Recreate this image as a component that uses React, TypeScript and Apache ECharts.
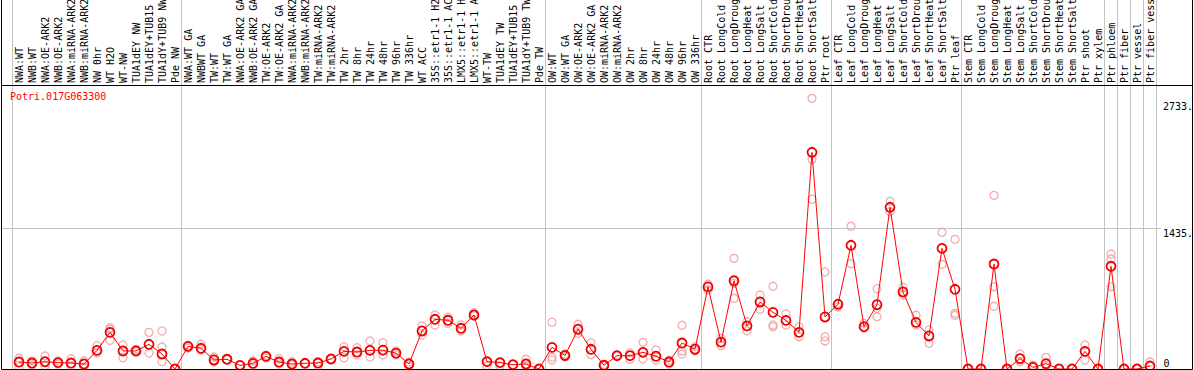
import { useEffect, useRef } from 'react';
import * as echarts from 'echarts';

const geneName = 'Potri.017G063300';

const categories = [
  'NWA:WT', 'NWB:WT', 'NWA:OE-ARK2', 'NWB:OE-ARK2', 'NWA:miRNA-ARK2', 'NWB:miRNA-ARK2',
  'NW 0hr', 'WT H2O', 'WT-NW', 'TUA1dEY NW', 'TUA1dEY+TUB15 NW', 'TUA1dY+TUB9 NW', 'Pde NW',
  'NWA:WT GA', 'NWBWT GA', 'TW:WT', 'TW:WT GA', 'NWA:OE-ARK2 GA', 'NWB:OE-ARK2 GA',
  'TW:OE-ARK2', 'TW:OE-ARK2 GA', 'NWA:miRNA-ARK2', 'NWB:miRNA-ARK2', 'TW:miRNA-ARK2',
  'TW:miRNA-ARK2', 'TW 2hr', 'TW 8hr', 'TW 24hr', 'TW 48hr', 'TW 96hr', 'TW 336hr',
  'WT ACC', '35S::etr1-1 H2O', '35S::etr1-1 ACC', 'LMX5::etr1-1 H2O', 'LMX5::etr1-1 ACC',
  'WT-TW', 'TUA1dEY TW', 'TUA1dEY+TUB15 TW', 'TUA1dY+TUB9 TW', 'Pde TW',
  'OW:WT', 'OW:WT GA', 'OW:OE-ARK2', 'OW:OE-ARK2 GA', 'OW:miRNA-ARK2', 'OW:miRNA-ARK2',
  'OW 2hr', 'OW 8hr', 'OW 24hr', 'OW 48hr', 'OW 96hr', 'OW 336hr',
  'Root CTR', 'Root LongCold', 'Root LongDrought', 'Root LongHeat', 'Root LongSalt',
  'Root ShortCold', 'Root ShortDrought', 'Root ShortHeat', 'Root ShortSalt', 'Ptr root',
  'Leaf CTR', 'Leaf LongCold', 'Leaf LongDrought', 'Leaf LongHeat', 'Leaf LongSalt',
  'Leaf ShortCold', 'Leaf ShortDrought', 'Leaf ShortHeat', 'Leaf ShortSalt', 'Ptr leaf',
  'Stem CTR', 'Stem LongCold', 'Stem LongDrought', 'Stem LongHeat', 'Stem LongSalt',
  'Stem ShortCold', 'Stem ShortDrought', 'Stem ShortHeat', 'Stem ShortSalt',
  'Ptr shoot', 'Ptr xylem', 'Ptr phloem', 'Ptr fiber', 'Ptr vessel', 'Ptr fiber vessel',
];

const meanValues = [
  71, 61, 74, 65, 61, 51, 190, 374, 184, 184, 252, 153, 0,
  231, 211, 92, 99, 37, 58, 129, 71, 51, 58, 61, 102, 180, 173, 190, 192, 162, 51,
  388, 507, 497, 415, 551, 75, 65, 44, 51, 0,
  221, 138, 406, 201, 38, 136, 136, 170, 130, 71, 265, 202,
  838, 274, 900, 440, 684, 578, 496, 374, 2211, 531,
  660, 1262, 432, 656, 1650, 786, 476, 337, 1231, 813,
  0, 0, 1071, 0, 105, 17, 54, 0, 0,
  180, 0, 1048, 0, 0, 30,
];

const rep1 = [
  109, 82, 133, 82, 105, 82, 238, 421, 245, 200, 374, 388, 0,
  242, 252, 122, 99, 38, 82, 140, 105, 74, 58, 74, 102, 228, 217, 286, 268, 184, 71,
  439, 551, 528, 449, 574, 75, 65, 44, 99, 0,
  477, 150, 456, 268, 45, 140, 166, 272, 194, 92, 446, 228,
  867, 313, 1129, 482, 755, 844, 561, 432, 2762, 990,
  670, 1456, 466, 819, 1711, 834, 548, 398, 1395, 1323,
  0, 0, 1772, 0, 153, 30, 119, 5, 0,
  245, 0, 1173, 0, 0, 71,
];

const rep2 = [
  23, 41, 31, 51, 31, 17, 166, 405, 115, 178, 163, 224, null,
  214, 194, 71, null, null, 41, 112, 51, 41, null, 31, null, 115, 143, 122, 143, 143, 31,
  347, 449, 466, 388, 541, 31, 31, null, 31, null,
  119, 125, 364, 146, 31, 130, 99, 102, 92, 51, 184, 184,
  806, 238, 721, 390, 609, 449, 449, 330, 2140, 330,
  633, 1075, 415, 619, 1605, 755, 449, 262, 1068, 568,
  null, null, 840, null, 74, 38, 31, null, null,
  92, null, 1122, null, null, null,
];

const rep3 = [
  null, null, null, null, null, null, null, 293, null, null, null, 74, null,
  null, null, null, null, null, null, null, null, null, null, null, null, null, null, null, null, null, null,
  null, null, null, null, null, null, null, null, null, null,
  92, null, null, null, null, null, null, null, null, null, 153, null,
  null, null, 874, null, null, 432, null, null, 1732, 286,
  null, null, null, 534, null, null, null, null, null, 548,
  null, null, 640, null, null, null, null, null, null,
  null, null, 840, null, null, null,
];

const yLabelValues = [1435, 2733];
const yZeroLabel = [0];
const gridlineValue = 1435;
const separatorBefore = [0, 13, 41, 53, 63, 73, 84, 85, 86, 87, 88];

export default function App() {
  const ref = useRef<HTMLDivElement>(null);

  useEffect(() => {
    const chart = echarts.init(ref.current!, null, { renderer: 'svg' });
    const font = "'DejaVu Sans Mono', monospace";
    const sepSet = new Set(separatorBefore);
    const sepLine = {
      show: true,
      interval: (i: number) => sepSet.has(i),
      lineStyle: { color: '#c4c4c4', width: 1 },
    };
    const repStyle = {
      type: 'scatter',
      xAxisIndex: 0,
      yAxisIndex: 0,
      symbol: 'circle',
      symbolSize: 8,
      itemStyle: { color: 'transparent', borderColor: '#ee9999', borderWidth: 1.3 },
      z: 2,
      silent: true,
    };
    const yMax = 2898;
    chart.setOption({
      animation: false,
      title: {
        text: geneName,
        left: 10,
        top: 91,
        padding: 0,
        textStyle: { color: '#ff0000', fontSize: 10, fontFamily: font, fontWeight: 'normal' },
      },
      grid: [
        { left: 12.5, right: 37.5, top: 85, height: 284, containLabel: false, outerBoundsMode: 'none' },
        { left: 12.5, right: 37.5, top: 0, height: 85, containLabel: false, outerBoundsMode: 'none' },
      ],
      xAxis: [
        {
          type: 'category',
          gridIndex: 0,
          data: categories,
          position: 'top',
          boundaryGap: true,
          axisLine: { show: false },
          axisTick: { show: false },
          axisLabel: {
            rotate: 90,
            interval: 0,
            fontSize: 10,
            fontFamily: font,
            color: '#000',
            margin: 2,
            hideOverlap: false,
          },
          splitLine: sepLine,
        },
        {
          type: 'category',
          gridIndex: 1,
          data: categories,
          boundaryGap: true,
          axisLine: { show: false },
          axisTick: { show: false },
          axisLabel: { show: false },
          splitLine: sepLine,
        },
      ],
      yAxis: [
        {
          type: 'value',
          gridIndex: 0,
          min: 0,
          max: yMax,
          position: 'right',
          splitLine: { show: false },
          axisLine: { show: false },
          axisTick: { show: false },
          axisLabel: {
            customValues: yLabelValues,
            formatter: (v: number) => `${v}.`,
            fontSize: 10,
            fontFamily: font,
            color: '#000',
            align: 'left',
            verticalAlign: 'top',
            margin: 6.5,
          },
        },
        {
          type: 'value',
          gridIndex: 0,
          min: 0,
          max: yMax,
          position: 'right',
          splitLine: { show: false },
          axisLine: { show: false },
          axisTick: { show: false },
          axisLabel: {
            customValues: yZeroLabel,
            fontSize: 10,
            fontFamily: font,
            color: '#000',
            align: 'left',
            verticalAlign: 'bottom',
            margin: 7,
            padding: [0, 0, 1, 0],
          },
        },
        {
          type: 'value',
          gridIndex: 1,
          min: 0,
          max: 1,
          show: false,
        },
      ],
      series: [
        { ...repStyle, name: 'rep1', data: rep1 },
        { ...repStyle, name: 'rep2', data: rep2 },
        { ...repStyle, name: 'rep3', data: rep3 },
        {
          type: 'line',
          name: 'mean',
          xAxisIndex: 0,
          yAxisIndex: 0,
          data: meanValues,
          symbol: 'circle',
          symbolSize: 9,
          showAllSymbol: true,
          lineStyle: { color: '#ff0000', width: 1 },
          itemStyle: { color: 'transparent', borderColor: '#f00000', borderWidth: 1.8 },
          z: 3,
          clip: false,
        },
      ],
    });

    const gy = chart.convertToPixel({ yAxisIndex: 0 }, gridlineValue) as number;
    chart.setOption({
      graphic: [
        {
          type: 'line',
          shape: { x1: 1, y1: Math.round(gy) + 0.5, x2: 1161, y2: Math.round(gy) + 0.5 },
          style: { stroke: '#c4c4c4', lineWidth: 1 },
          z: 0,
          silent: true,
        },
        {
          type: 'line',
          shape: { x1: 1, y1: 85.5, x2: 1192.5, y2: 85.5 },
          style: { stroke: '#000', lineWidth: 1 },
          z: 10,
          silent: true,
        },
        {
          type: 'rect',
          shape: { x: 1.5, y: -2, width: 1191, height: 371.5 },
          style: { fill: 'none', stroke: '#000', lineWidth: 1 },
          z: 10,
          silent: true,
        },
      ],
    });

    return () => chart.dispose();
  }, []);

  return (
    <div
      ref={ref}
      style={{ position: 'absolute', left: 0, top: 0, width: 1194, height: 370 }}
    />
  );
}
